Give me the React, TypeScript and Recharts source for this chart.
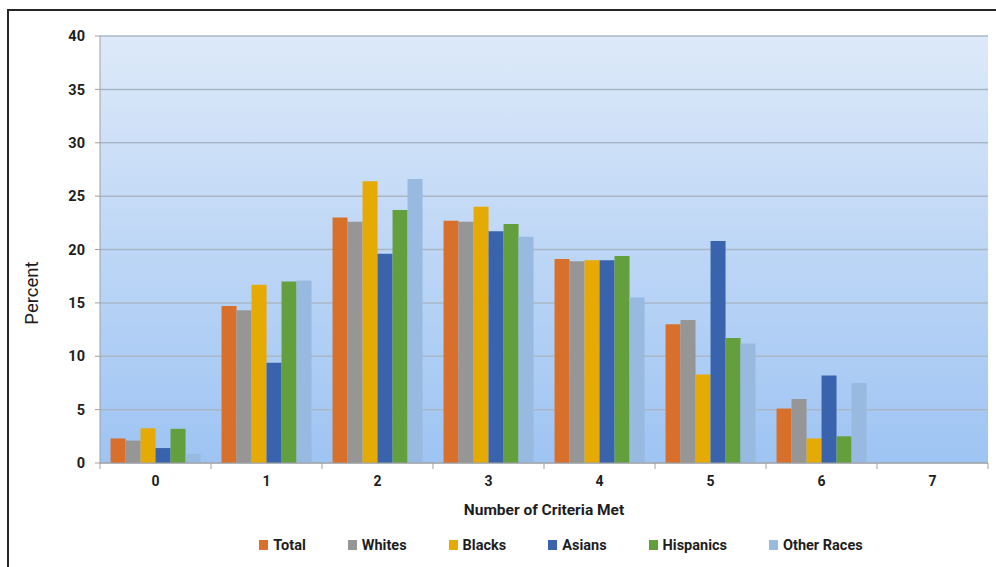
import React from 'react';
import { BarChart, Bar, XAxis, YAxis, CartesianGrid, Legend, Label } from 'recharts';

const categories = ['0', '1', '2', '3', '4', '5', '6', '7'];
const total = [2.3, 14.7, 23.0, 22.7, 19.1, 13.0, 5.1, 0];
const whites = [2.1, 14.3, 22.6, 22.6, 18.9, 13.4, 6.0, 0];
const blacks = [3.25, 16.7, 26.4, 24.0, 19.0, 8.3, 2.3, 0];
const asians = [1.4, 9.4, 19.6, 21.7, 19.0, 20.8, 8.2, 0];
const hispanics = [3.2, 17.0, 23.7, 22.4, 19.4, 11.7, 2.5, 0];
const otherRaces = [0.85, 17.1, 26.6, 21.2, 15.5, 11.2, 7.5, 0];
const yTicks = [0, 5, 10, 15, 20, 25, 30, 35, 40];

const series = [
  { key: 'total', name: 'Total', color: '#d86f2b' },
  { key: 'whites', name: 'Whites', color: '#969696' },
  { key: 'blacks', name: 'Blacks', color: '#e5aa04' },
  { key: 'asians', name: 'Asians', color: '#3964ad' },
  { key: 'hispanics', name: 'Hispanics', color: '#63a03d' },
  { key: 'other', name: 'Other Races', color: '#98b9e0' },
];

const data = categories.map((c, i) => ({
  criteria: c,
  total: total[i],
  whites: whites[i],
  blacks: blacks[i],
  asians: asians[i],
  hispanics: hispanics[i],
  other: otherRaces[i],
}));

const FONT = 'Roboto, "Liberation Sans", sans-serif';
const HALF_BAND = (888 / categories.length) / 2;

// label centred in the band, tick marks on the band edges like the original
const CategoryTick = (props: any) => {
  const { x, y, payload, index } = props;
  const top = y - 8;
  return (
    <g>
      <line x1={x - HALF_BAND} x2={x - HALF_BAND} y1={top} y2={top + 6} stroke="#a0a0a0" />
      {index === categories.length - 1 && (
        <line x1={x + HALF_BAND} x2={x + HALF_BAND} y1={top} y2={top + 6} stroke="#a0a0a0" />
      )}
      <text x={x} y={top + 23} textAnchor="middle" fontSize={14} fontWeight="bold" fill="#1e1e1e" fontFamily={FONT}>
        {payload.value}
      </text>
    </g>
  );
};

const LegendContent = () => (
  <div style={{ display: 'flex', justifyContent: 'center', gap: 42, height: 20, alignItems: 'center', paddingLeft: 126 }}>
    {series.map(s => (
      <div key={s.key} style={{ display: 'flex', alignItems: 'center' }}>
        <span style={{ width: 9, height: 10, background: s.color, marginRight: 5, display: 'inline-block' }} />
        <span style={{ fontFamily: FONT, fontWeight: 'bold', fontSize: 14.5, color: '#1e1e1e' }}>{s.name}</span>
      </div>
    ))}
  </div>
);

const App: React.FC = () => {
  return (
    <div style={{ position: 'absolute', left: 0, top: 0, width: 996, height: 567, overflow: 'hidden', background: '#fff' }}>
      <div style={{ position: 'absolute', left: 7, top: 9, width: 1100, height: 700, border: '2px solid #262626' }} />
      <div style={{ position: 'absolute', left: 0, top: 0 }}>
        <BarChart
          width={996}
          height={567}
          data={data}
          margin={{ top: 36, right: 8, left: 0, bottom: 28 }}
          barCategoryGap="9.5%"
          barGap={0}
        >
          <defs>
            <linearGradient id="plotBg" x1="0" y1="0" x2="0" y2="1">
              <stop offset="0%" stopColor="#dde9f9" />
              <stop offset="100%" stopColor="#9ec4f3" />
            </linearGradient>
          </defs>
          <CartesianGrid vertical={false} stroke="#a9b7c7" strokeWidth={1.5} fill="url(#plotBg)" fillOpacity={1} />
          <XAxis
            dataKey="criteria"
            height={56}
            stroke="#a0a0a0"
            tickLine={false}
            tick={<CategoryTick />}
            interval={0}
          >
            <Label
              value="Number of Criteria Met"
              position="insideBottom"
              offset={4}
              style={{ fontFamily: FONT, fontWeight: 'bold', fontSize: 15.5, fill: '#1e1e1e' }}
            />
          </XAxis>
          <YAxis
            width={100}
            domain={[0, 40]}
            ticks={yTicks}
            stroke="#a0a0a0"
            tickSize={5}
            tick={{ fontFamily: FONT, fontWeight: 'bold', fontSize: 14.5, fill: '#1e1e1e' }}
            tickMargin={10}
          >
            <Label
              content={() => (
                <text x={38} y={293} transform="rotate(-90 38 293)" textAnchor="middle" fontFamily={FONT} fontSize={18.5} fill="#1e1e1e">
                  Percent
                </text>
              )}
            />
          </YAxis>
          <Legend verticalAlign="bottom" content={<LegendContent />} wrapperStyle={{ top: 535, left: 0, width: 996 }} />
          {series.map(s => (
            <Bar key={s.key} dataKey={s.key} name={s.name} fill={s.color} isAnimationActive={false} />
          ))}
        </BarChart>
      </div>
    </div>
  );
};

export default App;
